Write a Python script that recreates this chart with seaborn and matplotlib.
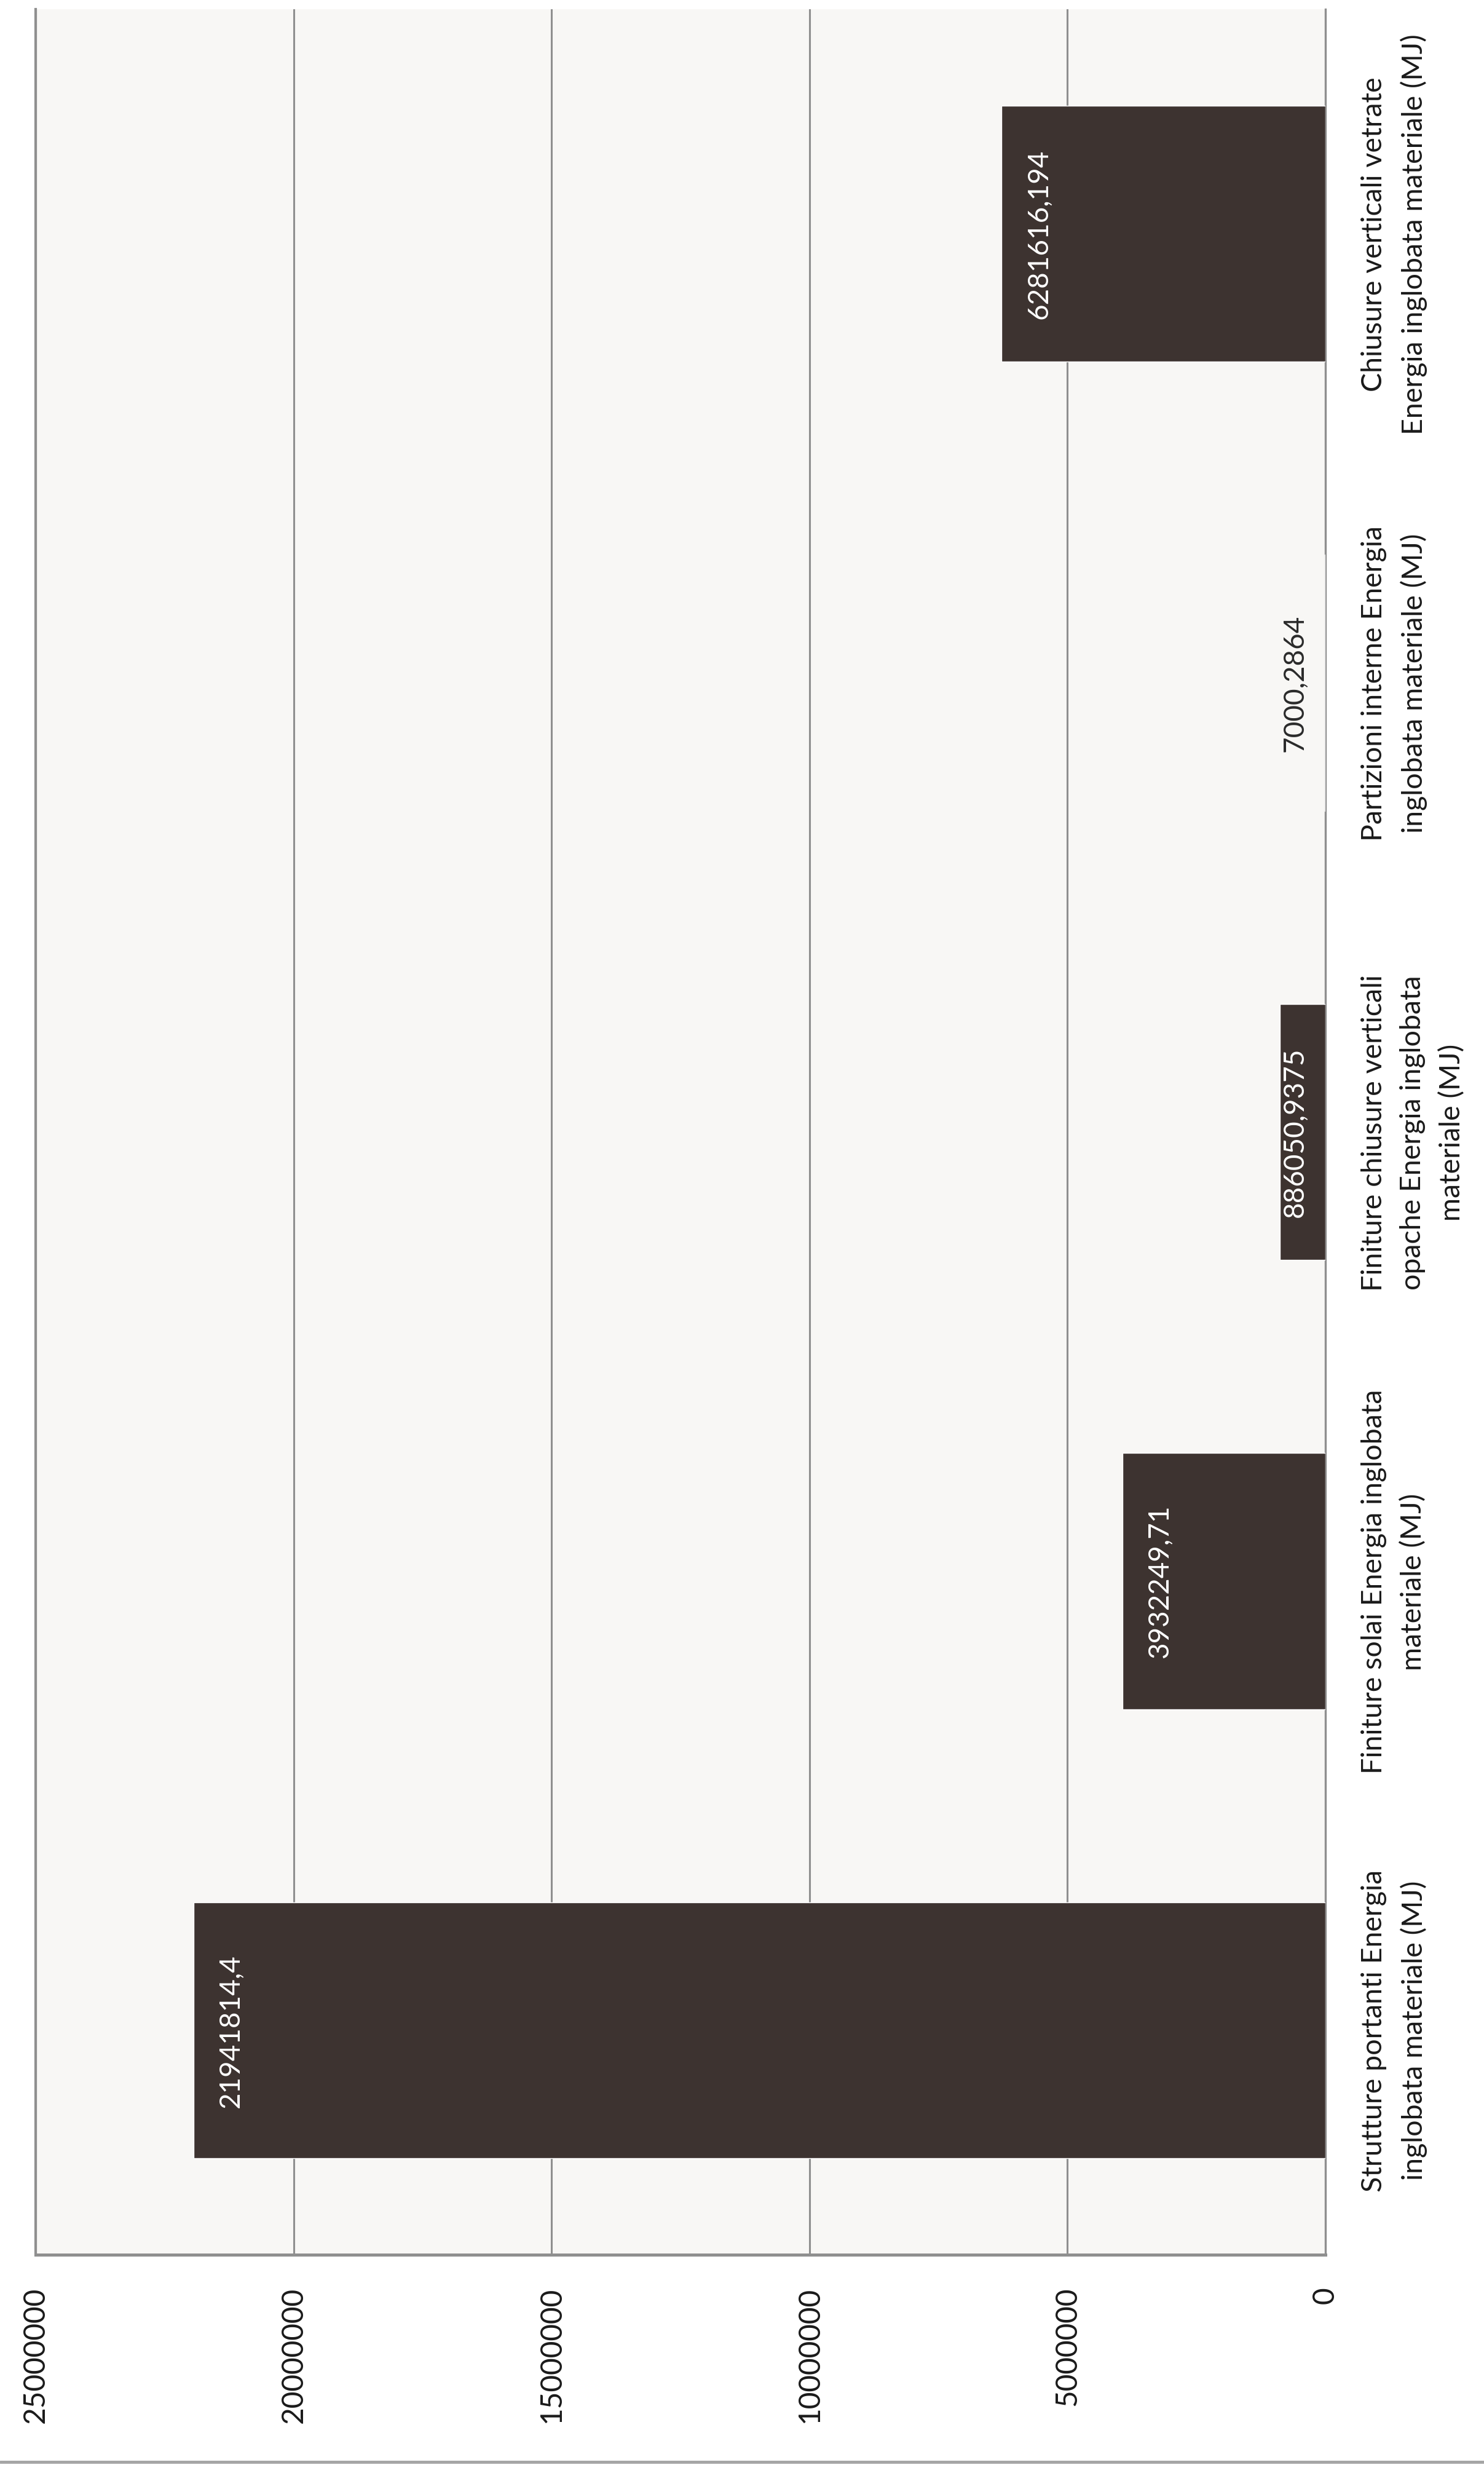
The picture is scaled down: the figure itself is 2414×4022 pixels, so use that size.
import matplotlib
matplotlib.use("Agg")
import matplotlib.pyplot as plt
import matplotlib.lines as mlines
import seaborn as sns
import pandas as pd

# Embodied material energy per building component (MJ)
categories = [
    "Strutture portanti Energia\ninglobata materiale (MJ)",
    "Finiture solai Energia inglobata\nmateriale (MJ)",
    "Finiture chiusure verticali\nopache Energia inglobata\nmateriale (MJ)",
    "Partizioni interne Energia\ninglobata materiale (MJ)",
    "Chiusure verticali vetrate\nEnergia inglobata materiale (MJ)",
]
values = [21941814.4, 3932249.71, 886050.9375, 7000.2864, 6281616.194]
value_ticks = [0, 5000000, 10000000, 15000000, 20000000, 25000000]
value_tick_labels = ["0", "5000000", "10000000", "15000000", "20000000", "25000000"]

BAR = "#3d3330"
GRID = "#8f8f8f"
PANEL = "#f8f7f5"
FONT = ["Lato", "DejaVu Sans"]

sns.set_theme(style="white")
plt.rcParams["font.family"] = FONT

df = pd.DataFrame({"categoria": categories, "energia": values})

fig = plt.figure(figsize=(24.14, 40.23), dpi=100)
ax = fig.add_axes([58 / 2414, 1 - 3668 / 4023, (2156 - 58) / 2414, (3668 - 16) / 4023])
ax.set_facecolor(PANEL)

sns.barplot(data=df, x="energia", y="categoria", order=categories, orient="h",
            color=BAR, saturation=1, width=0.57, ax=ax, zorder=3)

# column chart turned on its side: zero on the right, first category at the bottom
ax.set_xlim(max(value_ticks), 0)
ax.set_ylim(-0.5, len(categories) - 0.5)

ax.set_xticks(value_ticks)
ax.set_xticklabels(value_tick_labels, rotation=90, fontsize=34.5, color="#1a1a1a")
ax.tick_params(axis="x", length=0, pad=37)

ax.yaxis.tick_right()
ax.set_yticks(range(len(categories)))
ax.set_yticklabels(categories, rotation=90, fontsize=33.5, color="#1a1a1a",
                   multialignment="center", linespacing=1.6)
for lbl in ax.get_yticklabels():
    lbl.set_verticalalignment("center")
ax.tick_params(axis="y", length=0, pad=42)
ax.set_xlabel("")
ax.set_ylabel("")

ax.set_axisbelow(True)
ax.xaxis.grid(True, color=GRID, linewidth=2.2)
ax.yaxis.grid(False)
for side, lw in (("left", 3.0), ("right", 2.4), ("bottom", 3.6)):
    ax.spines[side].set_visible(True)
    ax.spines[side].set_color(GRID)
    ax.spines[side].set_linewidth(lw)
ax.spines["top"].set_visible(False)

# value labels at the inner end of each bar, kept inside the plot near the base
px_per_unit = fig.dpi * fig.get_figwidth() * ax.get_position().width / max(value_ticks)
for i, v in enumerate(values):
    xpos = max(v - 61 / px_per_unit, 50 / px_per_unit)
    color = "white" if v * px_per_unit >= 10 else "#2a2a2a"
    ax.text(xpos, i, str(v).replace(".", ","), rotation=90, ha="center", va="center",
            fontsize=33, color=color, zorder=5)

# outer frame line along the bottom of the chart area
fig.add_artist(mlines.Line2D([0, 1], [1 - 4005 / 4023] * 2, transform=fig.transFigure,
                             color="#a6a6a6", linewidth=3.6))

fig.savefig("out.png", dpi=100, facecolor="white")
